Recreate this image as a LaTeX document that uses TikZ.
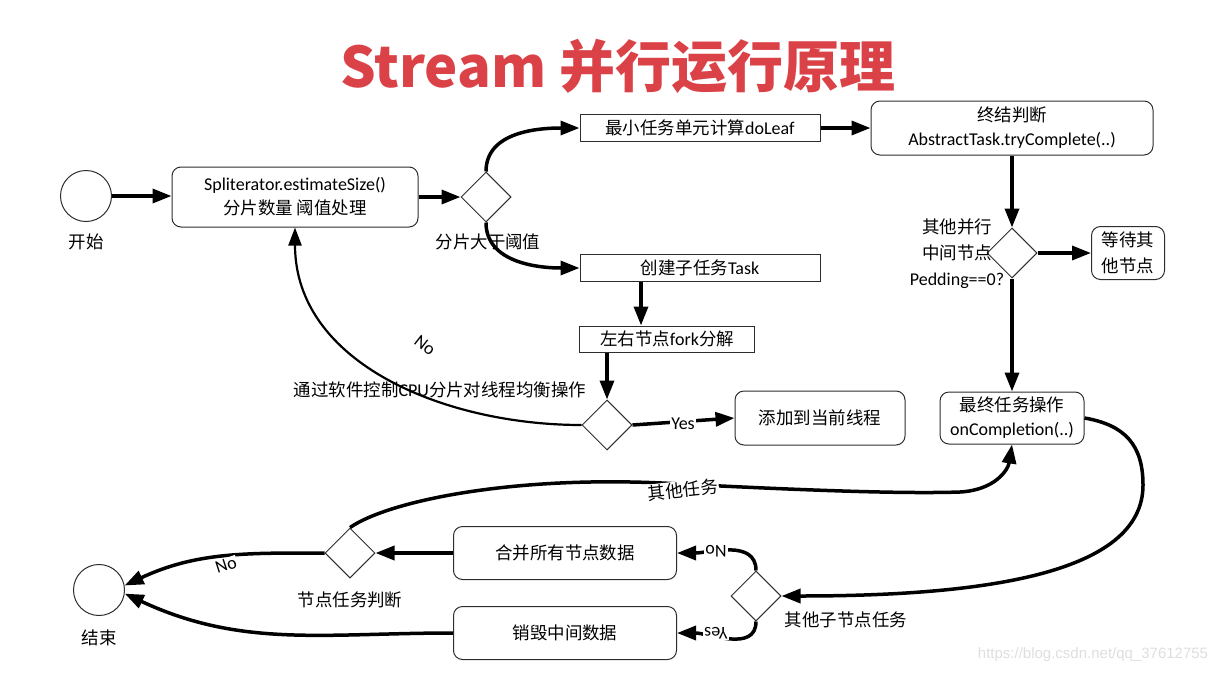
\documentclass[tikz,border=0pt]{standalone}
\usepackage{fontspec}
\setmainfont{Carlito}
\newfontfamily\cjk{Noto Sans CJK SC}[Scale=0.97]
\newfontfamily\titlefont{Noto Sans CJK SC}
\newfontfamily\wmfont{Liberation Sans}
\usetikzlibrary{shapes.geometric,arrows.meta}
\newcommand\zh[1]{{\cjk #1}}
\definecolor{titlered}{RGB}{218,66,72}
\definecolor{bord}{RGB}{45,45,45}
\definecolor{wm}{RGB}{222,222,222}
\begin{document}
\begin{tikzpicture}[x=1pt,y=1pt,
  every node/.style={font=\fontsize{18}{24}\selectfont, inner sep=2pt},
  rbox/.style={draw=bord, line width=1pt, rounded corners=9pt, align=center},
  sbox/.style={draw=bord, line width=1pt, align=center},
  dia/.style={diamond, draw=bord, line width=1pt, minimum width=50pt, minimum height=50pt, inner sep=0pt},
  circ/.style={circle, draw=bord, line width=1pt, minimum size=51pt, inner sep=0pt},
  arr/.style={line width=3.5pt, -{Triangle[length=19pt,width=14pt]}},
  arrthin/.style={line width=2.2pt, -{Triangle[length=18pt,width=13pt]}},
  lbl/.style={fill=white, inner sep=1pt},
]
\useasboundingbox (0,0) rectangle (1223,-675);

% title
\node (title) at (618,-66) {\titlefont\bfseries\fontsize{56}{60}\selectfont\color{titlered}Stream 并行运行原理};

% nodes
\node[circ] (start) at (86,-196) {};
\node (lstart) at (86,-242) {\zh{开始}};
\node[rbox, minimum width=246pt, minimum height=60pt] (b1) at (295,-197) {Spliterator.estimateSize()\\\zh{分片数量 阈值处理}};
\node[dia] (d1) at (486,-197) {};
\node[sbox, minimum width=240pt, minimum height=27pt, inner sep=0pt] (leaf) at (700,-128) {\zh{最小任务单元计算}doLeaf};
\node[sbox, minimum width=240pt, minimum height=27pt, inner sep=0pt] (task) at (700,-268) {\zh{创建子任务}Task};
\node[sbox, minimum width=175pt, minimum height=26pt, inner sep=0pt] (fork) at (667,-339) {\zh{左右节点}fork\zh{分解}};
\node[dia] (d2) at (607,-425) {};
\node[rbox, minimum width=170pt, minimum height=54pt] (add) at (820,-418) {\zh{添加到当前线程}};
\node[rbox, minimum width=282pt, minimum height=54pt] (term) at (1012,-128) {\zh{终结判断}\\AbstractTask.tryComplete(..)};
\node[dia] (d3) at (1012,-253) {};
\node[rbox, minimum width=73pt, minimum height=53pt, font=\fontsize{18}{26}\selectfont] (wait) at (1128,-253) {\zh{等待其}\\\zh{他节点}};
\node[rbox, minimum width=144pt, minimum height=52pt] (fin) at (1012,-418) {\zh{最终任务操作}\\onCompletion(..)};
\node[dia] (d4) at (756,-596) {};
\node[rbox, minimum width=223pt, minimum height=53pt] (merge) at (565,-553) {\zh{合并所有节点数据}};
\node[rbox, minimum width=223pt, minimum height=53pt] (destroy) at (565,-633) {\zh{销毁中间数据}};
\node[dia] (d5) at (350,-553) {};
\node[circ] (end) at (99,-590) {};

% connectors
\draw[arr] (start.east) -- (start.east -| b1.west);
\draw[arr] (b1.east) -- (d1.west);
\draw[arr] (d1.north) to[out=90,in=180] (leaf.west);
\draw[arr] (d1.south) to[out=-90,in=180] (task.west);
\draw[arr] ([xshift=-59pt]task.south) -- ([xshift=-26pt]fork.north);
\draw[arr] (d2.north |- fork.south) -- (d2.north);
\draw[arr] (d2.east) -- (add.west);
\draw[arrthin] (d2.west) to[out=180,in=-90] (b1.south);
\draw[arr] (leaf.east) -- (term.west);
\draw[arr] (term.south) -- (d3.north);
\draw[arr] (d3.east) -- (wait.west);
\draw[arr] (d3.south) -- (fin.north);
\draw[arr] (fin.east) .. controls (1125,-425) and (1143,-445) .. (1143,-485)
   .. controls (1143,-575) and (980,-596) .. (d4.east);
\draw[arr] (d4.north) to[out=90,in=0] (merge.east);
\draw[arr] (d4.south) to[out=-90,in=0] (destroy.east);
\draw[arr] (merge.west) -- (d5.east);
\draw[arr] (d5.west) to[out=180,in=25] (end.10);
\draw[arr] (destroy.west) to[out=180,in=-25] (end.-8);
\draw[arr] (d5.north) .. controls (390,-500) and (520,-474) .. (680,-484)
   .. controls (800,-490) and (900,-494) .. (960,-492)
   .. controls (995,-490) and (1008,-470) .. (fin.south);

% labels
\node (ld1) at (488,-242) {\zh{分片大于阈值}};
\node[rotate=-38] (lno1) at (425,-345) {No};
\node (ld2) at (440,-390) {\zh{通过软件控制}CPU\zh{分片对线程均衡操作}};
\node[lbl] (lyes1) at (683,-424) {Yes};
\node[align=center, font=\fontsize{18}{26}\selectfont] (ld3) at (957,-254) {\zh{其他并行}\\\zh{中间节点}\\Pedding==0?};
\node (ld4) at (846,-620) {\zh{其他子节点任务}};
\node (ld5) at (350,-600) {\zh{节点任务判断}};
\node (lend) at (99,-638) {\zh{结束}};
\node[lbl, rotate=18] (lno2) at (226,-565) {No};
\node[lbl, rotate=180] (lno3) at (716,-551) {No};
\node[lbl, rotate=180] (lyes2) at (716,-633) {Yes};
\node[lbl, rotate=6] (lother) at (683,-490) {\zh{其他任务}};
\node[text=wm, font=\wmfont\fontsize{15}{18}\selectfont] (wmark) at (1093,-655) {https://blog.csdn.net/qq\_37612755};
\end{tikzpicture}
\end{document}
